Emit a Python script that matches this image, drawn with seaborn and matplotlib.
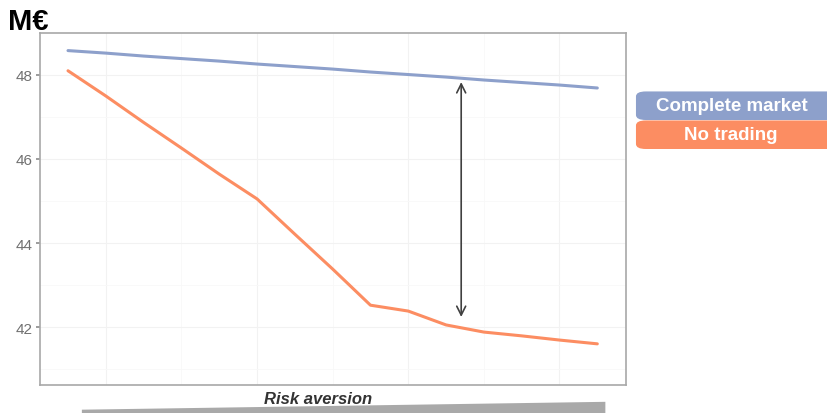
import matplotlib
matplotlib.use("Agg")
import matplotlib.pyplot as plt
from matplotlib.patches import FancyBboxPatch, Polygon
import pandas as pd
import seaborn as sns

# risk aversion steps (no labels shown on the axis)
risk_steps = list(range(15))
complete_market = [48.58, 48.52, 48.45, 48.39, 48.33, 48.26, 48.20, 48.14,
                   48.07, 48.01, 47.95, 47.88, 47.82, 47.76, 47.69]
no_trading = [48.10, 47.50, 46.87, 46.26, 45.64, 45.05, 44.21, 43.38,
              42.52, 42.38, 42.05, 41.88, 41.79, 41.69, 41.60]
series_names = ["Complete market", "No trading"]
series_colors = ["#8da0cb", "#fc8d62"]
y_ticks = [42, 44, 46, 48]
gap_at = 10.4
gap_top, gap_bottom = 47.83, 42.24

df = pd.DataFrame({
    "risk": risk_steps * 2,
    "value": complete_market + no_trading,
    "series": [series_names[0]] * 15 + [series_names[1]] * 15,
})

sns.set_theme(style="white")
plt.rcParams["font.family"] = ["Liberation Sans", "DejaVu Sans"]

fig = plt.figure(figsize=(8.27, 4.14), dpi=100)
ax = fig.add_axes([0.0484, 0.0676, 0.7086, 0.8504])

sns.lineplot(data=df, x="risk", y="value", hue="series",
             palette=dict(zip(series_names, series_colors)),
             linewidth=2.2, legend=False, ax=ax)

ax.set_xlim(-0.74, 14.76)
ax.set_ylim(40.62, 49.0)
ax.set_yticks(y_ticks)
ax.set_yticklabels([str(t) for t in y_ticks], color="#707070", fontsize=11)
ax.set_yticks([41, 43, 45, 47], minor=True)
ax.set_xticks([1, 5, 9, 13])
ax.set_xticks([3, 7, 11], minor=True)
ax.set_xticklabels([])
ax.tick_params(axis="x", length=0, which="both")
ax.tick_params(axis="y", which="major", left=True, length=3, color="#909090", pad=2)
ax.tick_params(axis="y", which="minor", length=0)
ax.grid(True, which="major", color="#f2f2f2", linewidth=0.8)
ax.grid(True, which="minor", color="#f8f8f8", linewidth=0.6)
ax.set_xlabel("")
ax.set_ylabel("")
for s in ax.spines.values():
    s.set_color("#a8a8a8")
    s.set_linewidth(1.2)

ax.annotate("", xy=(gap_at, gap_top), xytext=(gap_at, gap_bottom),
            arrowprops=dict(arrowstyle="<->", color="#404040", lw=1.2,
                            mutation_scale=16, shrinkA=0, shrinkB=0))

fig.text(0.01, 0.912, "M€", fontsize=21, fontweight="bold", color="black",
         va="bottom", ha="left")

# legend boxes
for i, (name, col) in enumerate(zip(series_names, series_colors)):
    y0 = 1 - (121 + 29 * i) / 414
    box = FancyBboxPatch((0.769, y0), 0.25, 0.069,
                         boxstyle="round,pad=0,rounding_size=0.012",
                         transform=fig.transFigure, facecolor=col,
                         edgecolor="none")
    fig.patches.append(box)
    fig.text(0.8855 if i == 0 else 0.8835, y0 + 0.035, name, color="white",
             fontsize=13.5, fontweight="bold", ha="center", va="center")

fig.text(0.385, 0.036, "Risk aversion", fontsize=12, fontweight="bold",
         style="italic", color="#333333", ha="center", va="center")

wedge = Polygon([(0.099, 0.008), (0.732, 0.027), (0.732, 0.0), (0.099, 0.0)],
                closed=True, transform=fig.transFigure,
                facecolor="#a9a9a9", edgecolor="none")
fig.patches.append(wedge)

fig.savefig("out.png", dpi=100)
